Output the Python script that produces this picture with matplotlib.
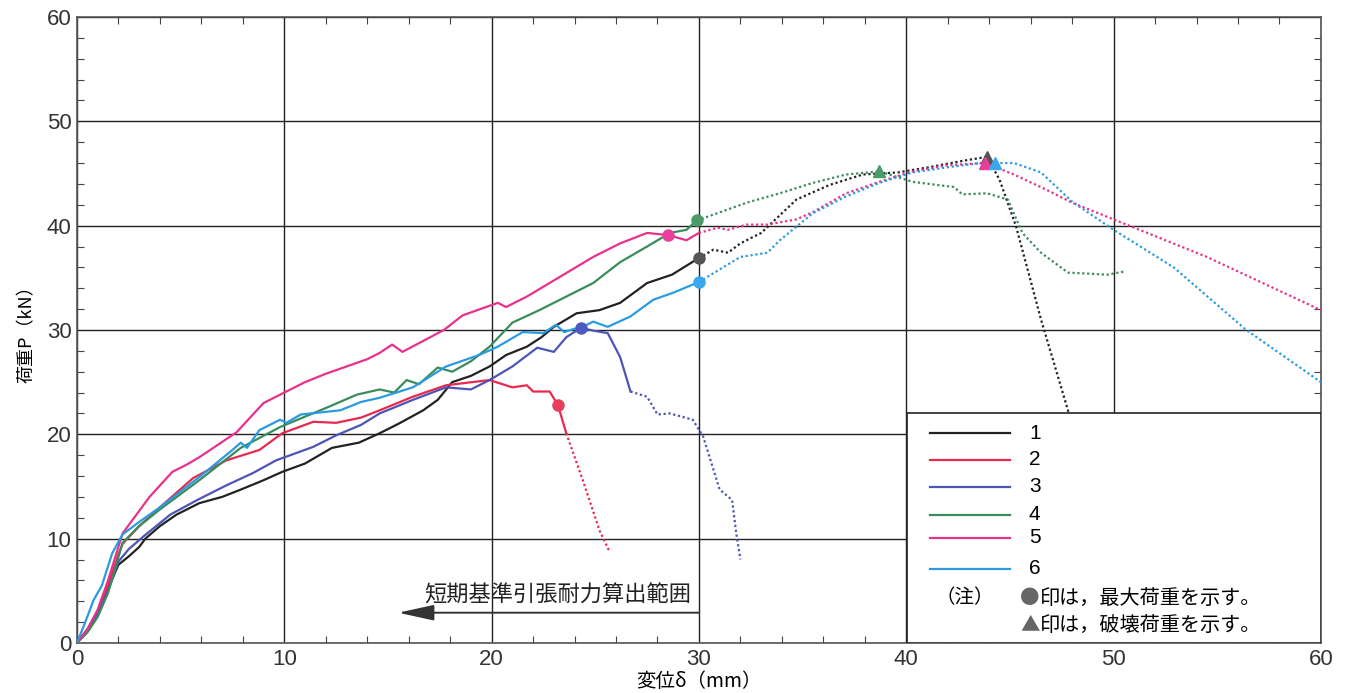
import matplotlib
matplotlib.use("Agg")
import matplotlib.pyplot as plt
from matplotlib.patches import Rectangle
from matplotlib.ticker import MultipleLocator

plt.rcParams['font.family'] = ['Noto Sans CJK JP', 'DejaVu Sans']

# --- data (displacement mm, load kN) ---
s1_x = [0, 0.5, 1, 1.5, 2, 2.5, 3, 3.3, 4, 4.8, 5.9, 7, 7.9, 9, 9.9, 11, 12.3, 13.6, 14.6, 15.5,
        16.7, 17.4, 18.1, 19.0, 19.9, 20.7, 21.7, 22.4, 23.0, 24.1, 25.2, 26.2, 27.5, 28.7, 30.0]
s1_y = [0, 1.3, 3.0, 5.2, 7.5, 8.3, 9.2, 10.0, 11.2, 12.3, 13.4, 14.0, 14.7, 15.6, 16.4, 17.2, 18.7,
        19.2, 20.1, 21.0, 22.3, 23.3, 25.0, 25.6, 26.5, 27.6, 28.4, 29.3, 30.3, 31.6, 31.9, 32.6,
        34.5, 35.3, 36.9]
d1_x = [30.0, 30.7, 31.4, 32.0, 33.0, 33.8, 34.7, 36.3, 37.9, 39.6, 41.1, 42.7, 43.9, 44.5, 45.3,
        46.5, 47.8, 48.6]
d1_y = [36.9, 37.7, 37.4, 38.3, 39.3, 40.8, 42.5, 43.9, 44.9, 45.1, 45.6, 46.2, 46.6, 44.4, 39.9,
        31.0, 22.3, 16.0]

s2_x = [0, 0.5, 1, 1.5, 2, 2.2, 3, 4, 5.6, 7.2, 8.8, 9.9, 11.4, 12.5, 13.7, 14.6, 16.2, 17.8, 19.9,
        21.0, 21.7, 22.0, 22.8, 23.2, 23.6]
s2_y = [0, 1.2, 3.0, 5.5, 8.5, 9.5, 11.2, 13.0, 15.8, 17.5, 18.5, 20.1, 21.2, 21.1, 21.6, 22.3, 23.6,
        24.7, 25.2, 24.5, 24.7, 24.1, 24.1, 22.8, 20.1]
d2_x = [23.6, 24.4, 25.2, 25.7]
d2_y = [20.1, 15.6, 10.8, 8.7]

s3_x = [0, 0.5, 1, 1.5, 2, 2.5, 3.2, 4.5, 5.8, 7.2, 8.5, 9.6, 11.4, 12.5, 13.7, 14.6, 16.2, 17.8,
        19.0, 19.9, 21.0, 22.2, 23.0, 23.6, 24.3, 25.0, 25.6, 26.2, 26.7]
s3_y = [0, 1.2, 2.8, 5.0, 7.8, 9.0, 10.2, 12.3, 13.7, 15.1, 16.3, 17.5, 18.8, 19.9, 20.9, 22.0, 23.3,
        24.5, 24.3, 25.2, 26.5, 28.3, 27.9, 29.3, 30.2, 29.9, 29.7, 27.4, 24.1]
d3_x = [26.7, 27.5, 28.0, 28.6, 29.7, 30.2, 31.0, 31.6, 31.8, 32.0]
d3_y = [24.1, 23.6, 21.9, 22.0, 21.4, 19.8, 14.7, 13.7, 10.5, 8.0]

s4_x = [0, 0.5, 1, 1.5, 2.2, 3, 4, 5.9, 7.9, 9.8, 12.1, 13.5, 14.6, 15.3, 15.9, 16.5, 17.4, 18.1,
        19.0, 19.9, 21.0, 22.3, 23.6, 24.9, 26.2, 27.5, 28.6, 29.4, 29.9]
s4_y = [0, 1.0, 2.5, 4.8, 9.6, 11.2, 12.8, 15.6, 18.7, 20.7, 22.6, 23.8, 24.3, 24.0, 25.2, 24.8, 26.4,
        26.0, 27.0, 28.4, 30.7, 31.9, 33.2, 34.5, 36.5, 38.0, 39.3, 39.6, 40.5]
d4_x = [29.9, 30.9, 32.3, 33.9, 35.5, 37.1, 38.7, 40.3, 42.3, 42.7, 43.9, 44.9, 45.6, 46.5, 47.8,
        49.7, 50.5]
d4_y = [40.5, 41.2, 42.2, 43.1, 44.1, 44.9, 45.2, 44.2, 43.7, 43.0, 43.1, 42.5, 39.3, 37.4, 35.5,
        35.3, 35.6]

s5_x = [0, 0.5, 1, 1.5, 2.2, 3.5, 4.6, 5.3, 5.9, 7.7, 9.0, 10.0, 11.0, 12.0, 13.0, 14.0, 14.6, 15.2,
        15.7, 17.7, 18.6, 20.3, 20.7, 21.7, 23.3, 24.9, 26.2, 27.5, 28.5, 29.4, 30.0]
s5_y = [0, 1.3, 3.2, 6.0, 10.5, 14.0, 16.4, 17.1, 17.8, 20.2, 23.0, 24.0, 25.0, 25.8, 26.5, 27.2, 27.8,
        28.6, 27.9, 30.0, 31.4, 32.6, 32.2, 33.2, 35.1, 37.0, 38.3, 39.3, 39.1, 38.6, 39.3]
d5_x = [30.0, 30.9, 31.4, 32.3, 33.3, 34.7, 35.5, 37.1, 38.7, 40.3, 42.0, 43.8, 45.2, 46.8, 48.0,
        50.0, 54.5, 60.0]
d5_y = [39.3, 39.8, 39.6, 40.1, 40.1, 40.6, 41.3, 43.1, 44.2, 45.2, 45.8, 46.0, 44.9, 43.4, 42.2,
        40.6, 37.0, 31.9]

s6_x = [0, 0.4, 0.8, 1.2, 1.7, 2.2, 3.0, 4.0, 5.9, 7.5, 7.9, 8.2, 8.8, 9.8, 10.1, 10.8, 12.7, 13.7,
        14.6, 16.2, 17.8, 19.4, 20.3, 21.5, 22.5, 23.1, 23.5, 24.6, 24.9, 25.6, 26.7, 27.8, 28.8, 30.0]
s6_y = [0, 2.0, 4.1, 5.5, 8.6, 10.4, 11.6, 13.0, 15.9, 18.5, 19.2, 18.7, 20.4, 21.4, 21.1, 21.9, 22.3,
        23.1, 23.5, 24.5, 26.5, 27.6, 28.4, 29.8, 29.7, 30.5, 29.8, 30.5, 30.8, 30.3, 31.3, 32.9, 33.6,
        34.6]
d6_x = [30.0, 31.0, 32.0, 33.3, 33.9, 35.5, 37.1, 38.7, 40.3, 42.0, 43.6, 44.3, 45.2, 46.5, 48.0,
        50.0, 52.9, 56.4, 60.0]
d6_y = [34.6, 35.8, 37.0, 37.4, 38.6, 41.2, 42.8, 44.1, 45.1, 45.6, 46.0, 46.0, 46.0, 45.1, 42.3,
        39.6, 36.0, 30.0, 25.0]

labels = ['1', '2', '3', '4', '5', '6']
colors = ['#222222', '#e8294f', '#4b55b5', '#3a8c5c', '#e8318c', '#2b9be0']
marker_colors = ['#555555', '#e8405f', '#4b5ac0', '#4a9a6a', '#e8409a', '#3aa8ec']

# maximum load (circle) and failure load (triangle)
max_x = [30.0, 23.2, 24.3, 29.9, 28.5, 30.0]
max_y = [36.9, 22.8, 30.2, 40.5, 39.1, 34.6]
fail_idx = [3, 0, 4, 5]
fail_x = [38.7, 43.9, 43.8, 44.3]
fail_y = [45.2, 46.6, 46.0, 46.0]

solid = [(s1_x, s1_y), (s2_x, s2_y), (s3_x, s3_y), (s4_x, s4_y), (s5_x, s5_y), (s6_x, s6_y)]
dotted = [(d1_x, d1_y), (d2_x, d2_y), (d3_x, d3_y), (d4_x, d4_y), (d5_x, d5_y), (d6_x, d6_y)]

fig = plt.figure(figsize=(13.48, 6.93), dpi=100)
ax = fig.add_axes([0.0571, 0.0722, 0.9228, 0.9033])

for i in range(6):
    ax.plot(*solid[i], color=colors[i], lw=1.6, zorder=3)
    ax.plot(*dotted[i], color=colors[i], lw=1.6, ls=(0, (1, 1.2)), zorder=3)
    ax.plot(max_x[i], max_y[i], 'o', color=marker_colors[i], ms=8, zorder=4)
for k, i in enumerate(fail_idx):
    ax.plot(fail_x[k], fail_y[k], '^', color=marker_colors[i], ms=9, zorder=4)

ax.set_xlim(0, 60)
ax.set_ylim(0, 60)
ax.xaxis.set_major_locator(MultipleLocator(10))
ax.yaxis.set_major_locator(MultipleLocator(10))
ax.xaxis.set_minor_locator(MultipleLocator(2))
ax.yaxis.set_minor_locator(MultipleLocator(2))
ax.grid(True, which='major', color='#222222', lw=1.0)
ax.tick_params(which='both', direction='in', top=True, right=True)
ax.tick_params(which='major', length=0, labelsize=16, pad=4, colors='#333333')
ax.tick_params(which='minor', length=5, width=0.8, color='#444444')
for t in ax.get_xticklabels() + ax.get_yticklabels():
    t.set_family(['Liberation Sans', 'DejaVu Sans'])
for sp in ax.spines.values():
    sp.set_color('#555555')
    sp.set_linewidth(1.2)

ax.set_xlabel('変位δ（mm）', fontsize=14, labelpad=1)
ax.set_ylabel('荷重P（kN）', fontsize=13, labelpad=8)

# short-term reference range arrow
ax.annotate('', xy=(15.5, 2.9), xytext=(30.0, 2.9),
            arrowprops=dict(arrowstyle='-|>,head_width=0.22,head_length=1.0', color='#333333',
                            lw=1.4, mutation_scale=22, shrinkA=0, shrinkB=0), zorder=5)
ax.text(23.2, 4.6, '短期基準引張耐力算出範囲', fontsize=16, ha='center', va='center',
        color='#222222', zorder=5)

# legend box drawn in data coords
ax.add_patch(Rectangle((40.04, 0), 19.96, 22.05, facecolor='white', edgecolor='#222222',
                       lw=1.2, zorder=6))
leg_y = [20.1, 17.55, 14.95, 12.3, 10.1, 7.1]
for i in range(6):
    ax.plot([41.15, 45.0], [leg_y[i], leg_y[i]], color=colors[i], lw=1.6, zorder=7)
    ax.text(46.2, leg_y[i], labels[i], fontsize=15, ha='center', va='center',
            family=['Liberation Sans', 'DejaVu Sans'], zorder=7)
ax.text(42.8, 4.3, '（注）', fontsize=14, ha='center', va='center', zorder=7)
ax.text(45.5, 4.3, '●', fontsize=14, ha='left', va='center', color='#666666', zorder=7)
ax.text(46.45, 4.3, '印は，最大荷重を示す。', fontsize=14.5, ha='left', va='center', zorder=7)
ax.text(45.5, 1.7, '▲', fontsize=14, ha='left', va='center', color='#666666', zorder=7)
ax.text(46.45, 1.7, '印は，破壊荷重を示す。', fontsize=14.5, ha='left', va='center', zorder=7)

fig.savefig('out.png', dpi=100)
